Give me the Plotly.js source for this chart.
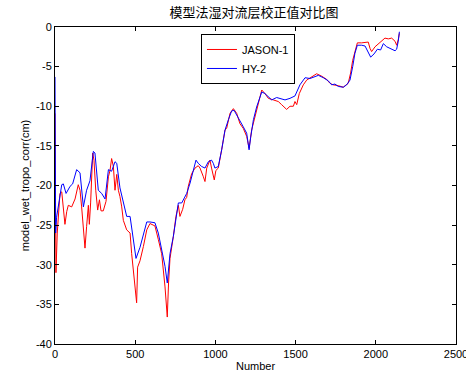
<!DOCTYPE html>
<html><head><meta charset="utf-8">
<script src="https://cdn.plot.ly/plotly-3.0.1.min.js"></script>
<style>html,body{margin:0;padding:0;background:#fff}#c{width:466px;height:375px}</style>
</head><body><div id="c"></div>
<script>
const jasonN = [0,3,6,14,31,42,56,62,73,83,104,125,145,156,166,177,187,197,208,214,222,235,243,254,260,266,277,287,301,318,333,343,353,364,374,385,395,405,416,426,447,468,478,488,499,509,515,530,551,572,592,623,644,665,686,696,700,708,717,738,754,769,779,796,810,821,831,852,873,893,904,925,935,946,966,976,987,993,1003,1018,1039,1060,1070,1091,1112,1133,1153,1174,1195,1210,1226,1247,1268,1289,1309,1330,1361,1392,1413,1444,1465,1486,1496,1507,1523,1548,1569,1600,1631,1662,1693,1714,1735,1766,1797,1828,1843,1856,1870,1885,1912,1933,1953,1964,1974,1995,2016,2036,2057,2078,2099,2120,2130,2140,2147];
const jasonV = [-10.9,-20,-31.0,-26,-21.0,-20.8,-23.6,-24.9,-23.3,-22.5,-22.7,-21.7,-19.9,-20.6,-22.7,-25.2,-27.9,-25.2,-22.5,-24.9,-22.2,-15.9,-16.8,-20.6,-22.2,-23.1,-21.8,-23.2,-23.2,-22.0,-18.9,-18.1,-16.6,-17.6,-20.6,-18.6,-20.6,-21.4,-22.7,-24.4,-25.6,-26.0,-28.6,-30.7,-32.3,-34.8,-30.3,-29.5,-27.7,-25.6,-24.8,-25.1,-26.8,-28.6,-32.8,-35.7,-36.6,-32.3,-29.2,-26.4,-23.9,-22.5,-23.9,-23.0,-21.8,-21.5,-20.1,-18.5,-17.8,-17.5,-17.8,-18.9,-19.5,-17.8,-16.8,-17.8,-18.9,-19.3,-18.1,-17.8,-15.5,-13.0,-12.8,-10.9,-10.3,-10.9,-12.2,-12.8,-13.8,-15.3,-13.0,-11.3,-9.6,-7.95,-8.4,-9.0,-9.2,-9.4,-9.8,-10.4,-10.0,-10.0,-9.4,-9.8,-8.4,-7.3,-6.7,-6.3,-5.9,-6.2,-6.6,-7.1,-7.3,-7.4,-7.6,-7.1,-5.8,-4.2,-3.1,-2.0,-2.0,-1.9,-1.9,-2.7,-3.1,-2.5,-2.1,-1.8,-1.4,-1.5,-1.4,-1.8,-2.3,-1.6,-0.8];

const hyN = [0,2,4,10,21,42,52,69,94,110,135,156,177,197,218,239,249,270,291,312,333,353,374,385,405,426,447,468,488,505,530,551,572,592,623,644,665,686,700,717,738,758,769,790,810,821,842,862,879,893,914,935,956,976,987,997,1018,1039,1060,1081,1101,1116,1128,1149,1174,1195,1210,1220,1237,1257,1289,1309,1330,1351,1382,1403,1434,1465,1496,1527,1559,1590,1621,1642,1673,1704,1725,1745,1766,1797,1818,1839,1856,1870,1885,1912,1933,1953,1968,1989,2010,2030,2047,2068,2099,2120,2130,2140,2147];
const hyV = [-6.3,-12,-26,-24,-22.7,-19.9,-19.8,-21,-20.1,-19.8,-18.0,-18.4,-22.7,-20.6,-19.4,-15.7,-15.9,-20.6,-21.0,-21.7,-18.0,-18.2,-17.0,-17.2,-20.3,-22.2,-23.9,-23.9,-26.9,-29.2,-27.8,-26.0,-24.6,-24.6,-24.7,-26.0,-28.1,-30.2,-32.3,-28.6,-26.4,-23.9,-22.2,-22.2,-21.3,-21.0,-19.7,-18.0,-16.8,-17.2,-17.6,-17.8,-17.0,-16.8,-17.2,-17.8,-17.6,-15.5,-13.0,-11.7,-10.6,-10.5,-10.9,-11.7,-12.6,-13.4,-15.5,-13.9,-11.7,-10.1,-8.2,-8.4,-8.8,-9.2,-8.9,-9.0,-9.2,-9.0,-8.7,-7.3,-6.4,-6.5,-6.2,-6.1,-6.4,-6.8,-7.3,-7.2,-7.5,-7.6,-7.3,-6.7,-5.0,-3.3,-2.3,-2.3,-2.4,-3.1,-3.8,-3.4,-2.8,-2.9,-2.1,-2.5,-2.8,-3.0,-2.8,-1.8,-0.6];

const xTicks = [0,500,1000,1500,2000,2500];
const yTicks = [0,-5,-10,-15,-20,-25,-30,-35,-40];

const font = {family: 'Liberation Sans, Arial, sans-serif', size: 11, color: '#000'};
const axisCommon = {
  showgrid: false, zeroline: false, showline: true, linecolor: '#000', linewidth: 1,
  mirror: 'ticks', ticks: 'inside', ticklen: 4, tickcolor: '#000', tickfont: font,
  ticklabeloverflow: 'allow'
};
Plotly.newPlot('c', [
  {x: jasonN, y: jasonV, name: 'JASON-1', mode: 'lines', line: {color: '#ff0000', width: 1}},
  {x: hyN, y: hyV, name: 'HY-2', mode: 'lines', line: {color: '#0000ff', width: 1}}
], {
  width: 466, height: 375,
  margin: {l: 55, r: 10, t: 27, b: 31},
  paper_bgcolor: '#fff', plot_bgcolor: '#fff',
  font: font,
  title: {text: '模型法湿对流层校正值对比图', font: {family: 'Noto Sans CJK SC, sans-serif', size: 13, color: '#000'}, x: 0.545, xanchor: 'center', y: 0.968, yanchor: 'middle'},
  xaxis: Object.assign({}, axisCommon, {range: [0, 2500], tickvals: xTicks, ticktext: xTicks.map(String),
    title: {text: 'Number', font: font, standoff: 3}}),
  yaxis: Object.assign({}, axisCommon, {range: [-40, 0], tickvals: yTicks, ticktext: yTicks.map(String),
    title: {text: 'model_wet_tropo_corr(cm)', font: font, standoff: 4}}),
  showlegend: true,
  legend: {x: 0.364, y: 0.978, xanchor: 'left', yanchor: 'top', bordercolor: '#000', borderwidth: 1,
    bgcolor: '#fff', font: font, tracegroupgap: 0, itemwidth: 30, tracegroupgap: 0}
}, {displayModeBar: false, staticPlot: true});
</script></body></html>
